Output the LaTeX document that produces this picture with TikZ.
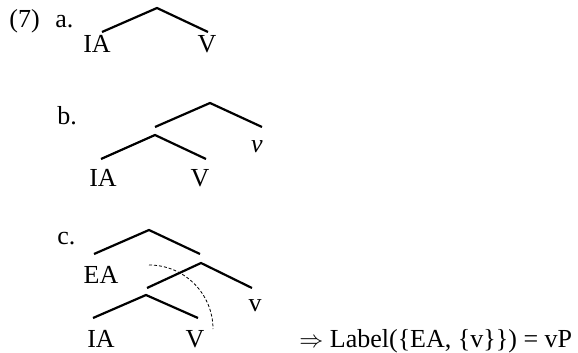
\documentclass[tikz,border=0pt]{standalone}
\usepackage{fontspec}
\setmainfont{Liberation Serif}
\begin{document}
\begin{tikzpicture}[x=0.5pt,y=-0.5pt,
        every node/.style={font=\fontsize{13}{15}\selectfont,inner sep=0pt},
        branch/.style={line width=1.1pt}]
        \useasboundingbox (0,0) rectangle (578,353);

        % (7a)
        \node[anchor=base west] (num) at (9, 28) {(7)};
        \node[anchor=base west] (ita) at (55, 28) {a.};
        \coordinate (a0) at (157, 8);
        \coordinate (a1) at (102, 32);
        \coordinate (a2) at (208, 32);
        \draw[branch] (a1) -- (a0) -- (a2);
        \node[anchor=base] (aIA) at (97, 53) {IA};
        \node[anchor=base] (aV) at (207, 53) {V};

        % (7b)
        \node[anchor=base west] (itb) at (57, 125) {b.};
        \coordinate (b0) at (210, 103);
        \coordinate (b1) at (155, 127);
        \coordinate (b2) at (262, 127);
        \coordinate (b3) at (155, 135);
        \coordinate (b4) at (101, 159);
        \coordinate (b5) at (206, 159);
        \draw[branch] (b1) -- (b0) -- (b2);
        \draw[branch] (b4) -- (b3) -- (b5);
        \node[anchor=base] (bv) at (257, 152) {\textit{v}};
        \node[anchor=base] (bIA) at (103, 186) {IA};
        \node[anchor=base] (bV) at (200, 186) {V};

        % (7c)
        \node[anchor=base west] (itc) at (57, 244) {c.};
        \coordinate (c0) at (149, 230);
        \coordinate (c1) at (94, 254);
        \coordinate (c2) at (200, 254);
        \coordinate (c3) at (201, 263);
        \coordinate (c4) at (147, 288);
        \coordinate (c5) at (252, 288);
        \coordinate (c6) at (146, 295);
        \coordinate (c7) at (93, 318);
        \coordinate (c8) at (198, 318);
        \draw[branch] (c1) -- (c0) -- (c2);
        \draw[branch] (c4) -- (c3) -- (c5);
        \draw[branch] (c7) -- (c6) -- (c8);
        \node[anchor=base] (cEA) at (101, 283) {EA};
        \node[anchor=base] (cv) at (255, 311) {v};
        \node[anchor=base] (cIA) at (101, 347) {IA};
        \node[anchor=base] (cV) at (195, 347) {V};

        \coordinate (arc) at (149, 265);
        \draw[dash pattern=on 1.5pt off 1pt, line width=0.4pt] (arc) arc (-90:0:64);

        \node[anchor=base west] (lab) at (299, 347) {$\Rightarrow$ Label(\{EA, \{v\}\}) = vP};
    \end{tikzpicture}
\end{document}
